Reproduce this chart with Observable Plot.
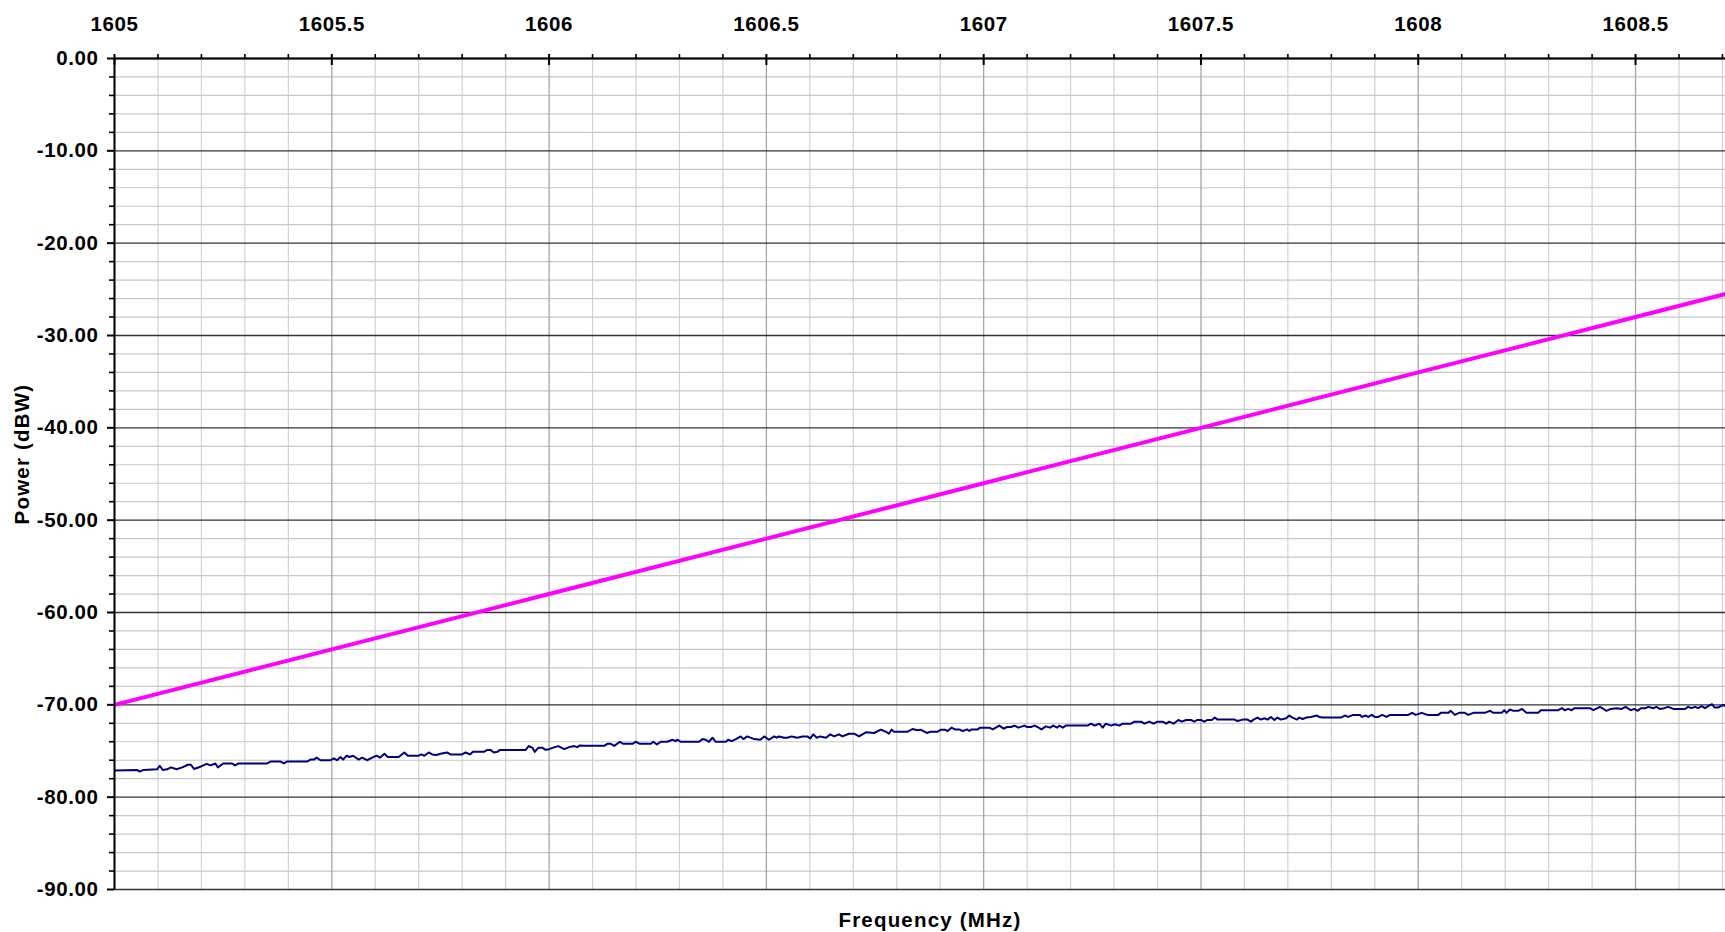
<!DOCTYPE html>
<html><head><meta charset="utf-8">
<script src="https://cdn.jsdelivr.net/npm/d3@7"></script>
<script src="https://cdn.jsdelivr.net/npm/@observablehq/plot@0.6"></script>
<style>
html,body{margin:0;padding:0;background:#fff;}
#chart svg text{letter-spacing:0.6px;}
#chart svg text.title{letter-spacing:1.2px;}
</style></head><body><div id="chart"></div>
<script>
// Tick values
const xMajorTicks = [1605, 1605.5, 1606, 1606.5, 1607, 1607.5, 1608, 1608.5];
const yMajorTicks = [0, -10, -20, -30, -40, -50, -60, -70, -80, -90];
const xMinorTicks = [1605.1,1605.2,1605.3,1605.4,1605.6,1605.7,1605.8,1605.9,1606.1,1606.2,1606.3,1606.4,1606.6,1606.7,1606.8,1606.9,1607.1,1607.2,1607.3,1607.4,1607.6,1607.7,1607.8,1607.9,1608.1,1608.2,1608.3,1608.4,1608.6,1608.7];
const yMinorTicks = [-2,-4,-6,-8,-12,-14,-16,-18,-22,-24,-26,-28,-32,-34,-36,-38,-42,-44,-46,-48,-52,-54,-56,-58,-62,-64,-66,-68,-72,-74,-76,-78,-82,-84,-86,-88];

// Magenta series (Frequency MHz, Power dBW)
const magentaFreq  = [1605, 1605.5, 1606, 1606.5, 1607, 1607.5, 1608, 1608.5, 1608.707];
const magentaPower = [-70.0, -64.0, -58.0, -52.0, -46.0, -40.0, -34.0, -28.0, -25.5];

// Navy series (Frequency MHz, Power dBW)
const navyFreq = [1605.000,1605.052,1605.058,1605.067,1605.098,1605.104,1605.111,1605.121,1605.130,1605.143,1605.156,1605.169,1605.176,1605.183,1605.198,1605.212,1605.221,1605.232,1605.238,1605.250,1605.271,1605.277,1605.286,1605.351,1605.359,1605.382,1605.390,1605.397,1605.443,1605.451,1605.459,1605.465,1605.474,1605.497,1605.505,1605.512,1605.520,1605.526,1605.534,1605.541,1605.549,1605.562,1605.570,1605.581,1605.593,1605.603,1605.611,1605.621,1605.629,1605.654,1605.667,1605.675,1605.700,1605.706,1605.713,1605.723,1605.731,1605.741,1605.750,1605.765,1605.773,1605.800,1605.808,1605.818,1605.825,1605.850,1605.858,1605.865,1605.873,1605.881,1605.887,1605.946,1605.953,
1605.962,1605.967,1605.975,1605.985,1605.992,1606.000,1606.008,1606.021,1606.035,1606.046,1606.058,1606.065,1606.071,1606.081,1606.127,1606.134,1606.142,1606.150,1606.163,1606.171,1606.192,1606.199,1606.209,1606.234,1606.240,1606.248,1606.257,1606.272,1606.284,1606.291,1606.295,1606.303,1606.345,1606.353,1606.360,1606.368,1606.376,1606.383,1606.407,1606.412,1606.420,1606.430,1606.441,1606.447,1606.456,1606.472,1606.486,1606.495,1606.506,1606.518,1606.524,1606.529,1606.541,1606.548,1606.558,1606.571,1606.583,1606.594,1606.601,1606.608,1606.616,1606.624,1606.637,1606.647,1606.656,1606.667,1606.675,1606.690,1606.702,1606.713,1606.729,1606.748,1606.763,1606.775,1606.782,1606.788,1606.794,1606.825,1606.836,1606.848,1606.855,1606.869,1606.878,
1606.894,1606.902,1606.911,1606.917,1606.926,1606.934,1606.944,1606.952,1606.962,1606.967,1606.972,1606.986,1606.992,1607.013,1607.021,1607.028,1607.036,1607.046,1607.054,1607.063,1607.071,1607.080,1607.094,1607.100,1607.109,1607.117,1607.124,1607.133,1607.143,1607.153,1607.160,1607.169,1607.174,1607.182,1607.189,1607.239,1607.247,1607.255,1607.266,1607.274,1607.281,1607.293,1607.301,1607.312,1607.320,1607.339,1607.347,1607.362,1607.370,1607.381,1607.391,1607.400,1607.412,1607.420,1607.427,1607.437,1607.448,1607.456,1607.466,1607.477,1607.485,1607.491,1607.500,1607.508,1607.515,1607.525,1607.532,1607.538,1607.577,1607.584,1607.596,1607.607,1607.615,1607.621,1607.630,1607.638,1607.646,1607.653,1607.661,1607.669,1607.676,1607.684,1607.696,1607.703,1607.711,1607.721,1607.726,1607.734,1607.742,1607.753,1607.767,1607.772,1607.780,1607.822,
1607.831,1607.839,1607.850,1607.866,1607.871,1607.879,1607.885,1607.893,1607.900,1607.908,1607.917,1607.927,1607.935,1607.977,1607.986,1607.994,1608.008,1608.021,1608.046,1608.052,1608.069,1608.075,1608.084,1608.094,1608.107,1608.115,1608.127,1608.153,1608.165,1608.173,1608.192,1608.198,1608.203,1608.211,1608.219,1608.230,1608.239,1608.249,1608.276,1608.282,1608.322,1608.331,1608.337,1608.345,1608.353,1608.360,1608.395,1608.403,1608.418,1608.426,1608.433,1608.443,1608.456,1608.468,1608.477,1608.489,1608.497,1608.505,1608.512,1608.523,1608.529,1608.541,1608.548,1608.556,1608.566,1608.575,1608.587,1608.614,1608.621,1608.629,1608.637,1608.644,1608.652,1608.660,1608.667,1608.676,1608.682,1608.690,1608.702,1608.709];
const navyPower = [-77.12,-77.05,-77.23,-77.05,-76.98,-76.60,-77.05,-76.98,-76.77,-76.98,-76.77,-76.49,-76.49,-76.95,-76.70,-76.39,-76.56,-76.35,-76.77,-76.35,-76.35,-76.56,-76.35,-76.35,-76.14,-76.14,-76.35,-76.14,-76.14,-75.93,-75.93,-75.72,-76.00,-76.00,-75.79,-76.00,-75.65,-75.93,-75.51,-75.65,-75.51,-75.93,-75.72,-76.00,-75.72,-75.51,-75.72,-75.30,-75.65,-75.65,-75.16,-75.51,-75.51,-75.37,-75.51,-75.16,-75.37,-75.44,-75.30,-75.16,-75.37,-75.37,-75.16,-75.37,-75.09,-75.09,-74.88,-74.88,-75.16,-75.09,-74.88,-74.88,-74.46,
-74.66,-75.09,-74.66,-74.66,-74.87,-74.80,-74.66,-74.47,-74.80,-74.58,-74.47,-74.58,-74.40,-74.44,-74.44,-74.22,-74.22,-74.44,-74.00,-74.22,-74.22,-74.00,-74.22,-74.22,-74.00,-74.29,-74.00,-74.00,-73.78,-73.93,-73.78,-74.00,-74.00,-73.71,-73.78,-74.00,-73.56,-74.00,-74.00,-73.78,-73.93,-73.71,-73.42,-73.71,-73.42,-73.71,-73.78,-73.42,-73.78,-73.42,-73.56,-73.42,-73.56,-73.56,-73.42,-73.56,-73.42,-73.42,-73.64,-73.20,-73.56,-73.42,-73.56,-73.20,-73.42,-73.20,-73.42,-73.13,-73.13,-73.42,-72.98,-73.05,-72.69,-72.91,-73.13,-72.69,-72.91,-72.91,-72.62,-72.76,-72.69,-73.05,-72.91,
-72.91,-72.69,-72.69,-72.84,-72.47,-72.66,-72.66,-72.84,-72.66,-72.84,-72.66,-72.66,-72.47,-72.47,-72.66,-72.47,-72.25,-72.58,-72.40,-72.40,-72.25,-72.47,-72.25,-72.40,-72.40,-72.25,-72.40,-72.66,-72.33,-72.47,-72.25,-72.47,-72.25,-72.47,-72.25,-72.25,-72.04,-72.25,-72.04,-72.47,-72.04,-72.25,-72.11,-72.25,-72.04,-72.04,-71.82,-71.82,-72.04,-71.82,-72.04,-71.82,-71.82,-72.04,-71.82,-72.04,-71.64,-71.82,-71.64,-71.64,-71.82,-71.64,-71.64,-71.82,-71.64,-71.64,-71.38,-71.60,-71.60,-71.75,-71.60,-71.60,-71.82,-71.60,-71.38,-71.60,-71.45,-71.60,-71.31,-71.64,-71.38,-71.60,-71.45,-71.16,-71.38,-71.60,-71.38,-71.53,-71.38,-71.31,-71.16,-71.31,-71.38,-71.38,
-71.16,-71.31,-71.09,-71.09,-71.31,-71.16,-71.31,-71.09,-71.31,-71.31,-71.09,-71.31,-71.09,-71.09,-70.87,-71.09,-70.87,-71.09,-71.09,-70.87,-70.87,-70.65,-71.09,-70.87,-70.87,-71.09,-70.87,-70.87,-70.65,-70.87,-70.87,-70.58,-70.87,-70.51,-70.65,-70.65,-70.44,-70.87,-70.87,-70.58,-70.58,-70.36,-70.58,-70.44,-70.58,-70.36,-70.36,-70.58,-70.22,-70.44,-70.65,-70.44,-70.36,-70.44,-70.22,-70.58,-70.44,-70.65,-70.36,-70.36,-70.22,-70.36,-70.22,-70.44,-70.36,-70.22,-70.44,-70.44,-70.22,-70.36,-70.22,-70.36,-70.15,-70.36,-70.15,-69.93,-70.29,-70.29,-70.00,-70.22];

const magenta = magentaFreq.map((f, i) => ({f, p: magentaPower[i]}));
const navy = navyFreq.map((f, i) => ({f, p: navyPower[i]}));

const chart = Plot.plot({
  width: 1725,
  height: 932,
  marginTop: 58,
  marginLeft: 114,
  marginRight: 0,
  marginBottom: 43,
  style: {
    fontFamily: '"Liberation Sans", Arial, sans-serif',
    fontSize: "20.5px",
    fontWeight: "bold",
    background: "#fff",
    color: "#000",
    overflow: "visible"
  },
  x: {domain: [1605, 1608.707], axis: null},
  y: {domain: [-90, 0], axis: null},
  marks: [
    Plot.ruleX(xMinorTicks, {stroke: "#d2d2d2", strokeWidth: 1.2}),
    Plot.ruleY(yMinorTicks, {stroke: "#c8c8c8", strokeWidth: 1.2}),
    Plot.ruleX(xMajorTicks, {stroke: "#a6a6a6", strokeWidth: 1.3}),
    Plot.ruleY(yMajorTicks, {stroke: "#333", strokeWidth: 1.4}),
    Plot.line(navy, {x: "f", y: "p", stroke: "#000080", strokeWidth: 2, clip: true}),
    Plot.line(magenta, {x: "f", y: "p", stroke: "#ff00ff", strokeWidth: 4, clip: true}),
    Plot.ruleY([0], {stroke: "#000", strokeWidth: 2}),
    Plot.ruleX([1605], {stroke: "#000", strokeWidth: 2}),
    Plot.axisX({anchor: "top", ticks: xMinorTicks, tickSize: 5, tickFormat: () => "", strokeWidth: 1.6, label: null}),
    Plot.axisX({anchor: "top", ticks: xMajorTicks, tickSize: 5, tickPadding: 23, tickFormat: d => String(d), strokeWidth: 2, label: null}),
    Plot.ruleX(xMajorTicks, {y1: 0, y2: -0.76, stroke: "#000", strokeWidth: 2}),
    Plot.axisY({anchor: "left", ticks: yMinorTicks, tickSize: 5, tickFormat: () => "", strokeWidth: 1.6, label: null}),
    Plot.axisY({anchor: "left", ticks: yMajorTicks, tickSize: 7, tickPadding: 9, tickFormat: d => d.toFixed(2), strokeWidth: 2, label: null}),
    Plot.text(["Frequency (MHz)"], {frameAnchor: "bottom", text: d => d, textAnchor: "middle", lineAnchor: "middle", dx: 10, dy: 31, fontSize: 20.5}),
    Plot.text(["Power (dBW)"], {frameAnchor: "left", text: d => d, textAnchor: "middle", lineAnchor: "middle", dx: -92, dy: -20, rotate: -90, fontSize: 20.5})
  ]
});
d3.select(chart).selectAll("text")
  .filter(function() { const t = this.textContent; return t === "Frequency (MHz)" || t === "Power (dBW)"; })
  .classed("title", true);
document.getElementById("chart").appendChild(chart);
</script>
</body></html>
